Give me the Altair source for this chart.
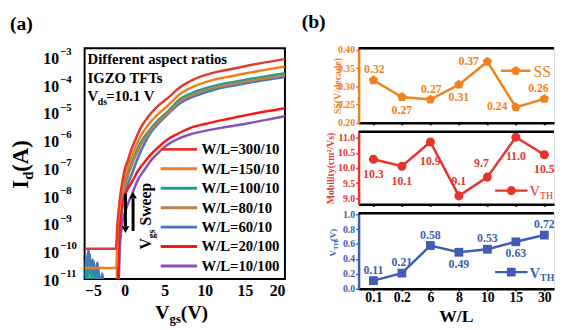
import json
import altair as alt
import pandas as pd

FONT = "Liberation Serif"

# ---------------- Panel (a): transfer curves ----------------
SERIES = ["W/L=300/10", "W/L=150/10", "W/L=100/10", "W/L=80/10",
          "W/L=60/10", "W/L=20/100", "W/L=10/100"]
COLORS = ["#DE3A33", "#F07E1C", "#1FA08A", "#B7804D", "#4A74C4", "#FF1414", "#8A50B8"]

V_300 = [-5, -1.1, -0.9, -0.6, -0.3, 0.0, 0.4, 0.8, 1.3, 2.0, 3.0, 4.0, 5.3, 7.0, 8.5, 10.0, 11.5, 13.5, 15.0, 17.5, 20.0]
L_300 = [-9.91, -9.91, -9.0, -8.1, -7.5, -7.05, -6.72, -6.35, -6.0, -5.55, -5.12, -4.8, -4.49, -4.07, -3.82, -3.65, -3.53, -3.42, -3.33, -3.19, -3.07]

V_150 = [-5, -1.05, -0.9, -0.6, -0.3, 0.0, 0.4, 0.8, 1.3, 2.0, 3.0, 4.0, 5.3, 7.0, 8.5, 10.0, 11.5, 13.5, 15.0, 17.5, 20.0]
L_150 = [-10.6, -10.6, -9.4, -8.4, -7.75, -7.3, -6.95, -6.62, -6.27, -5.85, -5.42, -5.1, -4.77, -4.31, -4.07, -3.91, -3.79, -3.68, -3.59, -3.46, -3.34]

V_100 = [-5, -4.8, -4.6, -4.35, -4.1, -3.85, -3.6, -3.35, -3.1, -2.8, -2.5, -1.0, -0.9, -0.6, -0.3, 0.0, 0.4, 0.8, 1.3, 2.0, 3.0, 4.0, 5.3, 7.0, 8.5, 10.0, 11.5, 13.5, 15.0, 17.5, 20.0]
L_100 = [-10.9, -10.25, -11.2, -10.1, -11.15, -10.35, -11.3, -10.6, -11.3, -10.9, -11.4, -11.4, -9.8, -8.7, -8.0, -7.55, -7.2, -6.87, -6.5, -6.08, -5.66, -5.32, -4.98, -4.49, -4.28, -4.13, -4.01, -3.9, -3.82, -3.7, -3.58]

V_80 = [-5, -1.0, -0.85, -0.55, -0.25, 0.05, 0.4, 0.8, 1.3, 2.0, 3.0, 4.0, 5.3, 7.0, 8.5, 10.0, 11.5, 13.5, 15.0, 17.5, 20.0]
L_80 = [-11.4, -11.4, -10.0, -8.8, -8.1, -7.65, -7.3, -6.97, -6.6, -6.17, -5.74, -5.4, -5.05, -4.57, -4.36, -4.2, -4.08, -3.97, -3.89, -3.77, -3.65]

V_60 = [-5, -4.75, -4.5, -4.25, -4.0, -3.7, -3.4, -3.1, -2.8, -2.5, -1.0, -0.85, -0.55, -0.25, 0.1, 0.5, 0.85, 1.3, 1.7, 2.5, 3.3, 4.2, 5.3, 7.0, 8.5, 10.0, 11.5, 13.5, 15.0, 17.5, 20.0]
L_60 = [-11.2, -10.5, -9.95, -10.7, -10.3, -10.9, -10.4, -11.2, -10.8, -11.4, -11.4, -10.3, -9.1, -8.35, -7.85, -7.5, -7.25, -6.9, -6.6, -6.1, -5.7, -5.4, -5.08, -4.64, -4.43, -4.28, -4.15, -4.03, -3.95, -3.83, -3.72]

V_20 = [-5, -0.85, -0.7, -0.45, -0.2, 0.3, 0.9, 1.7, 2.5, 3.3, 4.2, 5.3, 6.5, 8.2, 10.0, 12.0, 13.5, 15.0, 17.5, 20.0]
L_20 = [-11.4, -11.4, -9.4, -8.6, -8.15, -7.8, -7.5, -7.08, -6.78, -6.5, -6.25, -5.98, -5.78, -5.55, -5.41, -5.28, -5.19, -5.1, -4.96, -4.84]

V_10 = [-5, -0.8, -0.6, -0.3, 0.2, 0.9, 1.7, 2.5, 3.3, 4.2, 5.3, 6.5, 8.2, 10.0, 12.0, 13.5, 15.0, 17.5, 20.0]
L_10 = [-11.4, -11.4, -9.9, -9.0, -8.45, -7.95, -7.4, -7.05, -6.72, -6.45, -6.17, -5.97, -5.78, -5.66, -5.55, -5.48, -5.41, -5.27, -5.13]

# drawing order (back to front)
CURVES = [(SERIES[2], V_100, L_100), (SERIES[4], V_60, L_60), (SERIES[3], V_80, L_80),
          (SERIES[6], V_10, L_10), (SERIES[5], V_20, L_20), (SERIES[1], V_150, L_150),
          (SERIES[0], V_300, L_300)]

X_TICKS_A = [-5, 0, 5, 10, 15, 20]
Y_EXP = [-11, -10, -9, -8, -7, -6, -5, -4, -3]
Y_EXP_TEXT = ["−11", "−10", "−9", "−8", "−7", "−6", "−5", "−4", "−3"]

# ---------------- Panel (b): parameters vs W/L ----------------
WL_LABELS = ["0.1", "0.2", "6", "8", "10", "15", "30"]
SS = [0.317, 0.271, 0.264, 0.305, 0.368, 0.243, 0.266]
SS_TXT = ["0.32", "0.27", "0.27", "0.31", "0.37", "0.24", "0.26"]
SS_PLACE = ["above", "below", "above", "below", "left", "left", "aboveleft"]
MOB = [10.29, 10.06, 10.86, 9.08, 9.70, 11.02, 10.44]
MOB_TXT = ["10.3", "10.1", "10.9", "9.1", "9.7", "11.0", "10.5"]
MOB_PLACE = ["below", "below", "below2", "above", "aboveleft", "below2", "below"]
VTH = [0.11, 0.21, 0.58, 0.49, 0.53, 0.63, 0.72]
VTH_TXT = ["0.11", "0.21", "0.58", "0.49", "0.53", "0.63", "0.72"]
VTH_PLACE = ["above", "above", "above", "below", "above", "below", "above"]

C_SS, C_MOB, C_VTH = "#F0821E", "#E5332E", "#3E5DB3"

# ---------------- build tables ----------------
rows = []
for name, vs, ls in CURVES:
    for v, l in zip(vs, ls):
        rows.append({"series": name, "Vgs": v, "Id": 10.0 ** l})
df_a = pd.DataFrame(rows)
df_ylab = pd.DataFrame({"Id": [10.0 ** e for e in Y_EXP], "exp": Y_EXP_TEXT})

df_b = pd.DataFrame({"idx": list(range(len(WL_LABELS))), "wl": WL_LABELS,
                     "ss": SS, "ss_t": SS_TXT, "ss_p": SS_PLACE,
                     "mob": MOB, "mob_t": MOB_TXT, "mob_p": MOB_PLACE,
                     "vth": VTH, "vth_t": VTH_TXT, "vth_p": VTH_PLACE})

ONE = pd.DataFrame({"k": [0]})


def txt(text, x, y, size, weight="bold", angle=0, align="left", baseline="alphabetic", color="black"):
    return alt.Chart(pd.DataFrame({"t": [text]})).mark_text(
        font=FONT, fontSize=size, fontWeight=weight, angle=angle, align=align,
        baseline=baseline, color=color).encode(x=alt.value(x), y=alt.value(y), text="t:N")


WA, HA = 204, 235

xa = alt.X("Vgs:Q", scale=alt.Scale(domain=[-5, 20], nice=False, zero=False),
           axis=alt.Axis(values=X_TICKS_A, title=None, domain=False, ticks=False, grid=False,
                         labelFont=FONT, labelFontSize=16, labelFontWeight="bold",
                         labelColor="black", labelPadding=4))
ya = alt.Y("Id:Q", scale=alt.Scale(type="log", domain=[1e-11, 2.1e-3], nice=False),
           axis=alt.Axis(values=[10.0 ** e for e in Y_EXP], labels=False, title=None,
                         domain=False, ticks=False, grid=False))

lines = alt.Chart(df_a).mark_line(clip=True, strokeWidth=2.5, interpolate="monotone").encode(
    x=xa, y=ya,
    color=alt.Color("series:N", scale=alt.Scale(domain=SERIES, range=COLORS),
                    legend=alt.Legend(title=None, orient="none", legendX=76, legendY=94,
                                      symbolType="stroke", symbolSize=1369, symbolStrokeWidth=3,
                                      labelFont=FONT, labelFontSize=15, labelFontWeight="bold",
                                      labelColor="black", clipHeight=18, rowPadding=1.8,
                                      labelOffset=3, padding=0)))

# y tick labels drawn as "10" + raised exponent
ylab_ten = alt.Chart(df_ylab).mark_text(text="10", font=FONT, fontSize=16, fontWeight="bold",
                                        align="left", baseline="middle", dy=2, color="black").encode(
    x=alt.value(-42), y=ya)
ylab_exp = alt.Chart(df_ylab).mark_text(font=FONT, fontSize=11, fontWeight="bold",
                                        align="left", baseline="middle", dy=-5, color="black").encode(
    x=alt.value(-25), y=ya, text="exp:N")

arrow_down = alt.Chart(ONE).mark_rule(color="black", strokeWidth=3).encode(
    x=alt.datum(0.1), y=alt.datum(10 ** -7.92), y2=alt.datum(10 ** -9.1))
head_down = alt.Chart(ONE).mark_point(shape="triangle-down", filled=True, color="black",
                                      opacity=1, size=60).encode(
    x=alt.datum(0.1), y=alt.datum(10 ** -9.22))
arrow_up = alt.Chart(ONE).mark_rule(color="black", strokeWidth=3).encode(
    x=alt.datum(1.05), y=alt.datum(10 ** -9.27), y2=alt.datum(10 ** -8.1))
head_up = alt.Chart(ONE).mark_point(shape="triangle-up", filled=True, color="black",
                                    opacity=1, size=60).encode(
    x=alt.datum(1.05), y=alt.datum(10 ** -7.98))

a_texts = [
    txt("(a)", -76, -35, 20, baseline="top"),
    txt("Different aspect ratios", 3, 16, 15),
    txt("IGZO TFTs", 3, 35, 15),
    txt("V", 3, 54, 15),
    txt("ds", 13.5, 58, 10),
    txt("=10.1 V", 22, 54, 15),
    # rotated V_gs Sweep
    txt("V", 68, 205, 16, angle=270),
    txt("gs", 72, 193.4, 10, angle=270),
    txt("Sweep", 68, 180.5, 16, angle=270),
    # y title I_d(A)
    txt("I", -58, 143, 23, angle=270),
    txt("d", -53, 134, 15, angle=270),
    txt("(A)", -58, 125.7, 23, angle=270),
    # x title V_gs(V)
    txt("V", 72, 276, 20),
    txt("gs", 86.5, 280, 13),
    txt("(V)", 98, 276, 20),
]

chart_a = alt.layer(lines, ylab_ten, ylab_exp, arrow_down, head_down, arrow_up, head_up,
                    *a_texts).properties(
    width=WA, height=HA, view=alt.ViewBackground(stroke="black", strokeWidth=2))

# ---------------- Panel (b) builders ----------------
WB = 199
PENTAGON = "M0,-1L0.95,-0.31L0.59,0.81L-0.59,0.81L-0.95,-0.31Z"
x_label_expr = json.dumps(WL_LABELS) + "[datum.value]"


def panel(field, tfield, pfield, color, domain, yvals, yfmt, height, shape, size,
          offsets, ytitle, title_x, show_x, extra):
    xb = alt.X("idx:Q", scale=alt.Scale(domain=[-0.52, 6.34], nice=False, zero=False),
               axis=alt.Axis(values=list(range(len(WL_LABELS))), labelExpr=x_label_expr,
                             labels=show_x, title=None,
                             domainColor="black", domainWidth=2.5, tickColor="black",
                             tickSize=2, tickWidth=2, grid=False, labelFont=FONT,
                             labelFontSize=14, labelFontWeight="bold", labelColor="black",
                             labelPadding=0))
    yargs = dict(values=yvals, format=yfmt, domainColor=color, domainWidth=2.5,
                 tickColor=color, tickSize=3, tickWidth=1.5, grid=False, labelFont=FONT,
                 labelFontSize=10, labelFontWeight="bold", labelColor=color, labelPadding=1)
    if ytitle:
        yargs.update(title=ytitle, titleX=title_x, titleY=height / 2, titleAngle=270,
                     titleAlign="center", titleBaseline="middle", titleFont=FONT,
                     titleFontSize=10, titleFontWeight="bold", titleColor=color)
    else:
        yargs.update(title=None)
    yb = alt.Y(f"{field}:Q", scale=alt.Scale(domain=domain, nice=False, zero=False),
               axis=alt.Axis(**yargs))
    base = alt.Chart(df_b)
    line = base.mark_line(color=color, strokeWidth=2.5).encode(x=xb, y=yb)
    pts = base.mark_point(shape=shape, filled=True, color=color, opacity=1, size=size).encode(x=xb, y=yb)
    labels = []
    for key, (dx, dy) in offsets.items():
        labels.append(base.transform_filter(alt.datum[pfield] == key).mark_text(
            font=FONT, fontSize=12, fontWeight="bold", color=color, dx=dx, dy=dy,
            baseline="middle", align="center").encode(x=xb, y=yb, text=f"{tfield}:N"))
    top = alt.Chart(ONE).mark_rule(color="black", strokeWidth=2.5).encode(
        x=alt.value(0), x2=alt.value(WB), y=alt.value(0))
    return alt.layer(line, pts, *labels, top, *extra).properties(width=WB, height=height)


def legend_marks(color, y, shape, size, x0, x1, xt, label_parts):
    r = alt.Chart(ONE).mark_rule(color=color, strokeWidth=2.5).encode(
        x=alt.value(x0), x2=alt.value(x1), y=alt.value(y))
    p = alt.Chart(ONE).mark_point(shape=shape, filled=True, color=color, opacity=1,
                                  size=size).encode(x=alt.value((x0 + x1) / 2), y=alt.value(y))
    out = [r, p]
    for text, dx, dy, fs, w in label_parts:
        out.append(txt(text, xt + dx, y + dy, fs, weight=w, color=color))
    return out


H1, H2, H3 = 76, 74, 77

b1_extra = legend_marks(C_SS, 23, PENTAGON, 100, 145, 175, 178,
                        [("SS", 0, 6, 16, "normal")])
b1_extra.append(txt("(b)", -58, -37, 20, baseline="top"))
b1 = panel("ss", "ss_t", "ss_p", C_SS, [0.2, 0.405], [0.20, 0.25, 0.30, 0.35, 0.40], ".2f",
           H1, PENTAGON, 100,
           {"above": (1, -11), "below": (0, 13), "left": (-19, -1), "aboveleft": (-6, -11)},
           "SS(V/decade)", -21, False, b1_extra)

b2_extra = legend_marks(C_MOB, 60, "circle", 85, 139, 172, 174,
                        [("V", 0, 5.5, 15, "normal"), ("TH", 10.8, 9, 10, "normal")])
b2 = panel("mob", "mob_t", "mob_p", C_MOB, [8.8, 11.2], [9.0, 9.5, 10.0, 10.5, 11.0], ".1f",
           H2, "circle", 85,
           {"below": (0, 15), "below2": (0, 19), "above": (0, -15), "aboveleft": (-6, -14)},
           "Mobility(cm²/Vs)", -29, False, b2_extra)

b3_extra = legend_marks(C_VTH, 60, "square", 80, 139, 172, 174,
                        [("V", 0, 5.5, 15, "bold"), ("TH", 10.8, 9, 10, "bold")])
b3_extra += [txt("V", -23, 44, 9, angle=270, color=C_VTH),
             txt("TH", -20.5, 37.5, 7, angle=270, color=C_VTH),
             txt("(V)", -23, 28.5, 9, angle=270, color=C_VTH),
             txt("W/L", WB / 2, H3 + 34, 18, align="center")]
b3 = panel("vth", "vth_t", "vth_p", C_VTH, [0.0, 1.013], [0.0, 0.2, 0.4, 0.6, 0.8, 1.0], ".1f",
           H3, "square", 80,
           {"above": (0, -11), "below": (0, 12)},
           None, 0, True, b3_extra)

chart_b = alt.vconcat(b1, b2, b3, spacing=9, bounds="flush")

chart = alt.hconcat(chart_a, chart_b, spacing=75, bounds="flush").properties(
    padding=0).configure_view(stroke=None).configure(font=FONT)

chart.save("out.html", embed_options={"renderer": "svg", "actions": False})
